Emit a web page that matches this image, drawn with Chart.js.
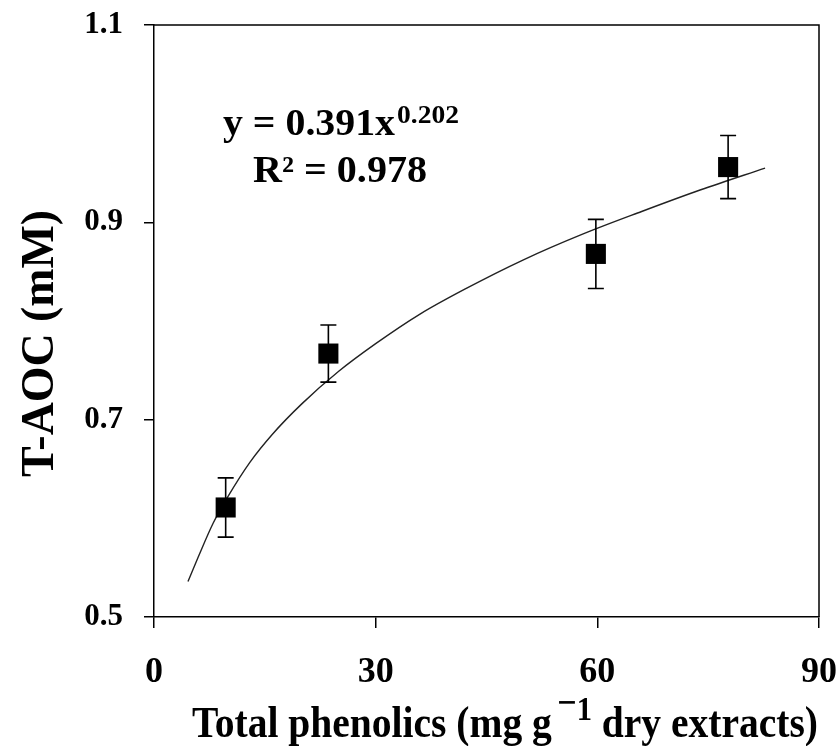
<!DOCTYPE html>
<html>
<head>
<meta charset="utf-8">
<script src="https://cdn.jsdelivr.net/npm/chart.js@4.4.0/dist/chart.umd.min.js"></script>
<style>
  html, body { margin: 0; padding: 0; background: #fff; }
  canvas { display: block; }
</style>
</head>
<body>
<canvas id="chart" width="837" height="746"></canvas>
<script>
// measured points (mean +/- SD)
const phenolics = [9.7, 23.6, 59.8, 77.7];
const taoc = [0.611, 0.767, 0.868, 0.956];
const taocErr = [0.030, 0.029, 0.035, 0.032];

// power trend line
const fitX = [4.6, 6, 8, 10, 13, 16, 20, 25, 30, 36, 42, 50, 58, 66, 74, 82.7];
const fitY = [0.536, 0.561, 0.595, 0.622, 0.657, 0.685, 0.716, 0.749, 0.777, 0.807, 0.832, 0.862, 0.888, 0.911, 0.933, 0.955];

const xTicks = [0, 30, 60, 90];
const yTicks = [0.5, 0.7, 0.9, 1.1];

const SERIF = '"Liberation Serif", "Times New Roman", serif';

// error bars, frame, equation and axis titles
const extras = {
    id: 'extras',
    afterDatasetsDraw(chart) {
        const c = chart.ctx;
        const xs = chart.scales.x, ys = chart.scales.y;
        const area = chart.chartArea;

        c.save();
        c.strokeStyle = '#000';
        c.lineWidth = 1.5;
        // top and right edges of the box
        c.beginPath();
        c.moveTo(area.left, area.top);
        c.lineTo(area.right, area.top);
        c.lineTo(area.right, area.bottom);
        c.stroke();

        // error bars
        c.lineWidth = 1.6;
        phenolics.forEach((x, i) => {
            const px = xs.getPixelForValue(x);
            const top = ys.getPixelForValue(taoc[i] + taocErr[i]);
            const bot = ys.getPixelForValue(taoc[i] - taocErr[i]);
            c.beginPath();
            c.moveTo(px, top); c.lineTo(px, bot);
            c.moveTo(px - 8, top); c.lineTo(px + 8, top);
            c.moveTo(px - 8, bot); c.lineTo(px + 8, bot);
            c.stroke();
        });

        // equation
        c.fillStyle = '#000';
        c.textAlign = 'left';
        c.textBaseline = 'alphabetic';
        c.font = 'bold 38px ' + SERIF;
        const eq = 'y = 0.391x';
        const w = c.measureText(eq).width;
        c.save();
        c.translate(223, 135);
        c.scale(172 / w, 1);
        c.fillText(eq, 0, 0);
        c.restore();
        c.font = 'bold 26px ' + SERIF;
        const sw = c.measureText('0.202').width;
        c.save();
        c.translate(397, 123);
        c.scale(62 / sw, 1);
        c.fillText('0.202', 0, 0);
        c.restore();
        c.font = 'bold 38px ' + SERIF;
        const r2 = 'R\u00b2 = 0.978';
        const rw = c.measureText(r2).width;
        c.save();
        c.translate(253, 182);
        c.scale(174 / rw, 1);
        c.fillText(r2, 0, 0);
        c.restore();

        // y title
        c.save();
        c.font = 'bold 46px ' + SERIF;
        const yt = 'T-AOC (mM)';
        const yw = c.measureText(yt).width;
        c.translate(53, 343.5);
        c.rotate(-Math.PI / 2);
        c.scale(267 / yw, 1);
        c.textAlign = 'center';
        c.fillText(yt, 0, 0);
        c.restore();

        // x title with superscript
        const parts = [
            { t: 'Total phenolics (mg g', f: 44, dy: 0 },
            { t: '\u2212', f: 38, dy: -22, gap: 6 },
            { t: '1', f: 34, dy: -17 },
            { t: ' dry extracts)', f: 44, dy: 0 }
        ];
        let total = 0;
        parts.forEach(p => {
            c.font = 'bold ' + p.f + 'px ' + SERIF;
            p.w = c.measureText(p.t).width;
            total += p.w + (p.gap || 0);
        });
        c.save();
        c.translate(192, 737);
        c.scale(626 / total, 1);
        let cx = 0;
        parts.forEach(p => {
            cx += p.gap || 0;
            c.font = 'bold ' + p.f + 'px ' + SERIF;
            c.fillText(p.t, cx, p.dy);
            cx += p.w;
        });
        c.restore();

        c.restore();
    }
};

new Chart(document.getElementById('chart'), {
    type: 'scatter',
    data: {
        datasets: [
            {
                label: 'T-AOC',
                data: phenolics.map((x, i) => ({ x: x, y: taoc[i] })),
                pointStyle: 'rect',
                pointRadius: 14.2,
                backgroundColor: '#000',
                borderColor: '#000',
                borderWidth: 0,
                order: 0
            },
            {
                label: 'fit',
                type: 'line',
                data: fitX.map((x, i) => ({ x: x, y: fitY[i] })),
                borderColor: '#222',
                borderWidth: 1.4,
                pointRadius: 0,
                fill: false,
                cubicInterpolationMode: 'monotone',
                order: 1
            }
        ]
    },
    options: {
        responsive: false,
        animation: false,
        events: [],
        layout: { padding: { left: 0, right: 18, top: 25, bottom: 0 } },
        plugins: { legend: { display: false }, tooltip: { enabled: false } },
        scales: {
            x: {
                type: 'linear',
                min: 0, max: 90,
                afterBuildTicks: s => { s.ticks = xTicks.map(v => ({ value: v })); },
                ticks: {
                    color: '#000',
                    font: { family: SERIF, size: 36, weight: 'bold' },
                    padding: 23,
                    maxRotation: 0,
                    callback: v => String(v)
                },
                grid: { drawOnChartArea: false, drawTicks: true, tickLength: 11, color: '#000', lineWidth: 1.5 },
                border: { display: true, color: '#000', width: 1.5 },
                afterFit: s => { s.height = 746 - 617; s.paddingLeft = 0; s.paddingRight = 0; }
            },
            y: {
                type: 'linear',
                min: 0.5, max: 1.1,
                afterBuildTicks: s => { s.ticks = yTicks.map(v => ({ value: v })); },
                ticks: {
                    color: '#000',
                    font: { family: SERIF, size: 31, weight: 'bold' },
                    padding: 21,
                    callback: v => Number(v).toFixed(1)
                },
                grid: { drawOnChartArea: false, drawTicks: true, tickLength: 10, color: '#000', lineWidth: 1.5 },
                border: { display: true, color: '#000', width: 1.5 },
                afterFit: s => { s.width = 154; s.paddingTop = 0; s.paddingBottom = 0; }
            }
        }
    },
    plugins: [extras]
});
</script>
</body>
</html>
